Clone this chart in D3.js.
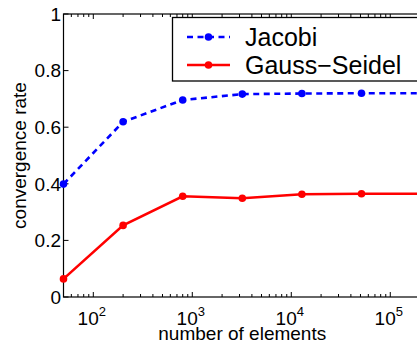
<!DOCTYPE html>
<html><head><meta charset="utf-8">
<script src="https://cdn.jsdelivr.net/npm/d3@7"></script>
<style>body{margin:0;background:#fff;overflow:hidden}svg{display:block}text{font-family:"Liberation Sans",Arial,sans-serif;fill:#000}</style>
</head><body>
<script>
const elements = [50, 200, 800, 3200, 12800, 51200, 204800];
const jacobi = [0.399, 0.619, 0.696, 0.717, 0.719, 0.720, 0.720];
const gaussSeidel = [0.064, 0.253, 0.356, 0.349, 0.363, 0.365, 0.365];
const yTicks = [0, 0.2, 0.4, 0.6, 0.8, 1];
const yTickLabels = ["0", "0.2", "0.4", "0.6", "0.8", "1"];
const xTicks = [100, 1000, 10000, 100000];
const xTickExps = ["2", "3", "4", "5"];
const seriesNames = ["Jacobi", "Gauss\u2212Seidel"];

const W = 417, H = 345;
const svg = d3.select("body").append("svg").attr("width", W).attr("height", H);
const x = d3.scaleLog().domain([50, 204800]).range([63.5, 421.1]);
const y = d3.scaleLinear().domain([0, 1]).range([297, 14]);
const [x0, x1] = x.range();
const [yb, yt] = y.range();

// axes box
const g = svg.append("g");
g.append("rect").attr("x", x0).attr("y", yt).attr("width", x1 - x0).attr("height", yb - yt)
  .attr("fill", "none").attr("stroke", "#000").attr("stroke-width", 1.2);

// minor x ticks
const minor = [];
for (let e = 1; e <= 5; e++) for (let m = 2; m <= 9; m++) { const v = m * Math.pow(10, e); if (v > 50 && v < 204800) minor.push(v); }
g.selectAll(".mnb").data(minor).join("line").attr("x1", d => x(d)).attr("x2", d => x(d))
  .attr("y1", yb).attr("y2", yb - 3).attr("stroke", "#000").attr("stroke-width", 1);
g.selectAll(".mnt").data(minor).join("line").attr("x1", d => x(d)).attr("x2", d => x(d))
  .attr("y1", yt).attr("y2", yt + 3).attr("stroke", "#000").attr("stroke-width", 1);
// major x ticks
g.selectAll(".mjb").data(xTicks).join("line").attr("x1", d => x(d)).attr("x2", d => x(d))
  .attr("y1", yb).attr("y2", yb - 5).attr("stroke", "#000").attr("stroke-width", 1);
g.selectAll(".mjt").data(xTicks).join("line").attr("x1", d => x(d)).attr("x2", d => x(d))
  .attr("y1", yt).attr("y2", yt + 5).attr("stroke", "#000").attr("stroke-width", 1);
// x tick labels
const xl = g.selectAll(".xl").data(xTicks).join("text").attr("x", d => x(d) - 1.5).attr("y", 325)
  .attr("text-anchor", "middle").style("font-size", "19px");
xl.append("tspan").text("10");
xl.append("tspan").attr("dy", -9).style("font-size", "13px").text((d, i) => xTickExps[i]);

// y ticks
g.selectAll(".yt").data(yTicks).join("line").attr("x1", x0).attr("x2", x0 + 5)
  .attr("y1", d => y(d)).attr("y2", d => y(d)).attr("stroke", "#000").attr("stroke-width", 1);
g.selectAll(".yl").data(yTicks).join("text").attr("x", x0 - 2.5).attr("y", d => y(d)).attr("dy", "0.36em")
  .attr("text-anchor", "end").style("font-size", "19px").text((d, i) => yTickLabels[i]);

// axis labels
svg.append("text").attr("x", (x0 + 417) / 2 + 2).attr("y", 340).attr("text-anchor", "middle")
  .style("font-size", "19px").text("number of elements");
svg.append("text").attr("transform", `translate(26,${(yb + yt) / 2}) rotate(-90)`).attr("text-anchor", "middle")
  .style("font-size", "19px").text("convergence rate");

// series
const line = d3.line().x(d => x(d[0])).y(d => y(d[1]));
const jd = elements.map((e, i) => [e, jacobi[i]]);
const gd = elements.map((e, i) => [e, gaussSeidel[i]]);
svg.append("path").datum(jd).attr("d", line).attr("fill", "none").attr("stroke", "#0000ff")
  .attr("stroke-width", 2.6).attr("stroke-dasharray", "6,4.5");
svg.selectAll(".jm").data(jd).join("circle").attr("cx", d => x(d[0])).attr("cy", d => y(d[1])).attr("r", 3.8).attr("fill", "#0000ff");
svg.append("path").datum(gd).attr("d", line).attr("fill", "none").attr("stroke", "#ff0000").attr("stroke-width", 2.6);
svg.selectAll(".gm").data(gd).join("circle").attr("cx", d => x(d[0])).attr("cy", d => y(d[1])).attr("r", 3.8).attr("fill", "#ff0000");

// legend
const lg = svg.append("g");
lg.append("rect").attr("x", 172.5).attr("y", 17.5).attr("width", 260).attr("height", 63.5)
  .attr("fill", "#fff").attr("stroke", "#000").attr("stroke-width", 1.3);
const ly = [37, 65];
lg.append("line").attr("x1", 187).attr("x2", 230).attr("y1", ly[0]).attr("y2", ly[0])
  .attr("stroke", "#0000ff").attr("stroke-width", 2.6).attr("stroke-dasharray", "6,4.5");
lg.append("circle").attr("cx", 208.5).attr("cy", ly[0]).attr("r", 3.8).attr("fill", "#0000ff");
lg.append("line").attr("x1", 187).attr("x2", 230).attr("y1", ly[1]).attr("y2", ly[1])
  .attr("stroke", "#ff0000").attr("stroke-width", 2.6);
lg.append("circle").attr("cx", 208.5).attr("cy", ly[1]).attr("r", 3.8).attr("fill", "#ff0000");
lg.selectAll(".lt").data(seriesNames).join("text").attr("x", 245).attr("y", (d, i) => ly[i]).attr("dy", "0.36em")
  .style("font-size", "25px").text(d => d);
</script>
</body></html>
